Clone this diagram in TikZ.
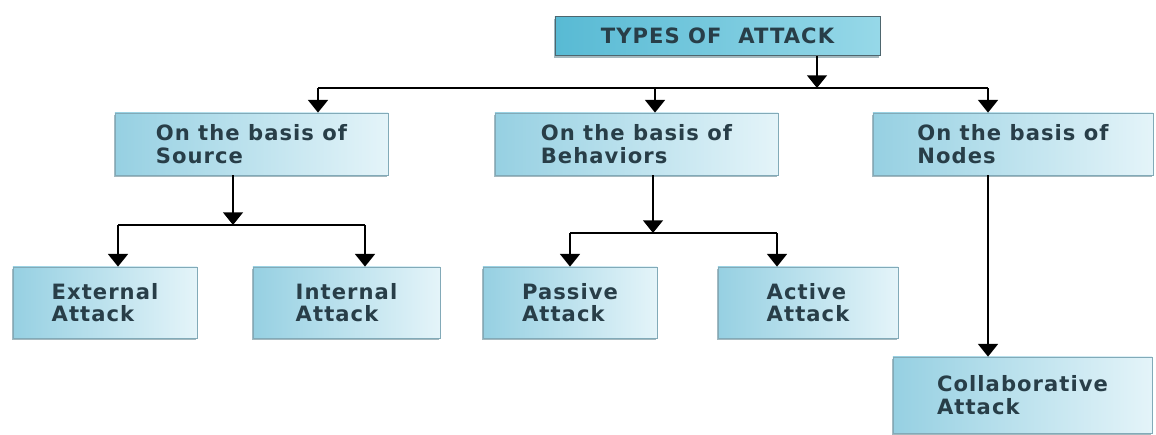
\documentclass[tikz,border=0pt]{standalone}
\usepackage{fontspec}
\usetikzlibrary{arrows.meta,shadows}
\newfontfamily\boxfont{DejaVu Sans}[LetterSpace=5]
\definecolor{boxdark}{RGB}{150,208,226}
\definecolor{boxlight}{RGB}{228,244,249}
\definecolor{headdark}{RGB}{88,186,212}
\definecolor{headlight}{RGB}{150,216,232}
\definecolor{boxline}{RGB}{130,170,184}
\definecolor{boxtext}{RGB}{40,62,72}
\begin{document}
\begin{tikzpicture}[x=0.025cm, y=-0.025cm,
    box/.style={rectangle, draw=boxline, line width=0.5pt, left color=boxdark, right color=boxlight,
      drop shadow={shadow xshift=-1pt, shadow yshift=-1.5pt, fill=boxline!80!black, opacity=0.6},
      align=left, text=boxtext, font=\boxfont\bfseries\fontsize{15}{16}\selectfont},
    head/.style={box, left color=headdark, right color=headlight, draw=boxline!60!black},
    arr/.style={-{Triangle[width=14pt,length=9pt]}, line width=1.6pt},
    conn/.style={line width=1.6pt}]
  \useasboundingbox (0,0) rectangle (1156,434);
  % boxes
  \node[head, minimum width=8.125cm, minimum height=0.975cm] (types) at (717.5,36) {TYPES OF\ \ ATTACK};
  \node[box, minimum width=6.825cm, minimum height=1.55cm] (source) at (251.5,144) {On the basis of\\Source};
  \node[box, minimum width=7.075cm, minimum height=1.55cm] (behav) at (636.5,144) {On the basis of\\Behaviors};
  \node[box, minimum width=7cm, minimum height=1.55cm] (nodes) at (1013,144) {On the basis of\\Nodes};
  \node[box, minimum width=4.6cm, minimum height=1.775cm] (external) at (105,302.5) {External\\Attack};
  \node[box, minimum width=4.675cm, minimum height=1.775cm] (internal) at (346.5,302.5) {Internal\\Attack};
  \node[box, minimum width=4.35cm, minimum height=1.775cm] (passive) at (570,302.5) {Passive\\Attack};
  \node[box, minimum width=4.5cm, minimum height=1.775cm] (active) at (808,302.5) {Active\\Attack};
  \node[box, minimum width=6.475cm, minimum height=1.9cm] (collab) at (1022.5,395) {Collaborative\\Attack};
  % branch points
  \coordinate (tdrop) at (817,88);
  \coordinate (tleft) at (318,88);
  \coordinate (tmid) at (655,88);
  \coordinate (tright) at (988,88);
  \coordinate (sdrop) at (233,225);
  \coordinate (sleft) at (118,225);
  \coordinate (sright) at (365,225);
  \coordinate (bdrop) at (653,233);
  \coordinate (bleft) at (570,233);
  \coordinate (bright) at (777,233);
  % connectors
  \draw[arr] (types.south -| tdrop) -- (tdrop);
  \draw[conn] (tleft) -- (tright);
  \draw[arr] (tleft) -- (tleft |- source.north);
  \draw[arr] (tmid) -- (tmid |- behav.north);
  \draw[arr] (tright) -- (tright |- nodes.north);
  \draw[arr] (source.south -| sdrop) -- (sdrop);
  \draw[conn] (sleft) -- (sright);
  \draw[arr] (sleft) -- (sleft |- external.north);
  \draw[arr] (sright) -- (sright |- internal.north);
  \draw[arr] (behav.south -| bdrop) -- (bdrop);
  \draw[conn, line width=0.9pt] (bleft) -- (bright);
  \draw[arr] (bleft) -- (bleft |- passive.north);
  \draw[arr] (bright) -- (bright |- active.north);
  \draw[arr] (nodes.south -| tright) -- (collab.north -| tright);
\end{tikzpicture}
\end{document}
